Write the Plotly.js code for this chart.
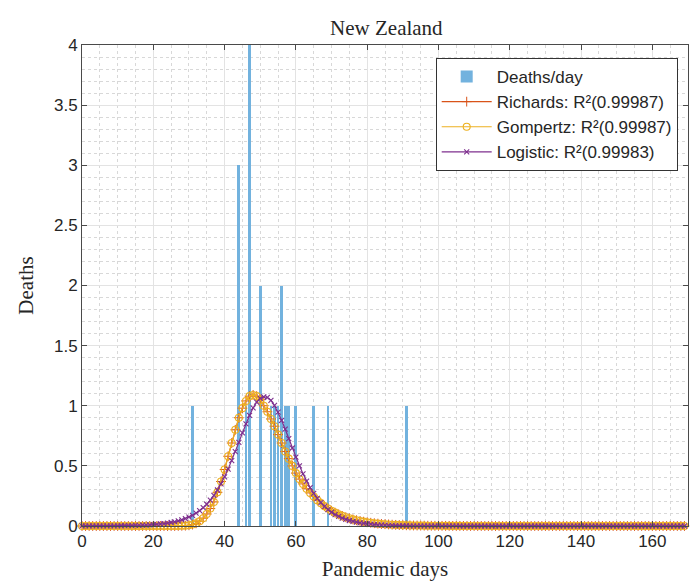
<!DOCTYPE html>
<html>
<head>
<meta charset="utf-8">
<script src="https://cdn.plot.ly/plotly-3.0.1.min.js"></script>
<style>html,body{margin:0;padding:0;background:#fff;}#chart{width:693px;height:583px;}</style>
</head>
<body>
<div id="chart"></div>
<script>
// Daily deaths (bars)
const barDays   = [31, 44, 46, 47, 50, 53, 54, 55, 56, 57, 58, 60, 65, 69, 91];
const barDeaths = [ 1,  3,  1,  4,  2,  1,  1,  1,  2,  1,  1,  1,  1,  1,  1];

// Fitted curves, value for each pandemic day 0..170
const richards = [
0,0,0,0,0,0,0,0,0,0, 0,0,0,0,0,0,0,0,0,0,
0,0,0,0,0,0,0,0.001,0.002,0.003,
0.006,0.012,0.022,0.04,0.065,0.10,0.145,0.20,0.28,0.37,
0.47,0.58,0.69,0.80,0.90,0.98,1.04,1.08,1.09,1.08,
1.05,1.00,0.95,0.89,0.83,0.76,0.69,0.62,0.56,0.50,
0.44,0.39,0.35,0.31,0.275,0.245,0.215,0.19,0.165,0.145,
0.127,0.111,0.097,0.084,0.073,0.064,0.055,0.048,0.042,0.036,
0.031,0.027,0.023,0.02,0.017,0.015,0.013,0.011,0.0095,0.008,
0.007,0.006,0.005,0.0045,0.004,0.0034,0.003,0.0026,0.0022,0.0019,
0.0016,0.0014,0.0012,0.001,0.0009,0.0008,0.0007,0.0006,0.0005,0.0004,
0.0004,0.0003,0.0003,0.0002,0.0002,0.0002,0.0001,0.0001,0.0001,0.0001,
0,0,0,0,0,0,0,0,0,0, 0,0,0,0,0,0,0,0,0,0,
0,0,0,0,0,0,0,0,0,0, 0,0,0,0,0,0,0,0,0,0,
0,0,0,0,0,0,0,0,0,0, 0
];
const gompertz = [
0,0,0,0,0,0,0,0,0,0, 0,0,0,0,0,0,0,0,0,0,
0,0,0,0,0,0,0,0.001,0.002,0.003,
0.006,0.012,0.022,0.04,0.065,0.10,0.145,0.20,0.28,0.37,
0.47,0.58,0.69,0.80,0.90,0.98,1.04,1.08,1.09,1.08,
1.05,1.00,0.95,0.89,0.83,0.76,0.69,0.62,0.56,0.50,
0.44,0.39,0.35,0.31,0.275,0.245,0.215,0.19,0.165,0.145,
0.127,0.111,0.097,0.084,0.073,0.064,0.055,0.048,0.042,0.036,
0.031,0.027,0.023,0.02,0.017,0.015,0.013,0.011,0.0095,0.008,
0.007,0.006,0.005,0.0045,0.004,0.0034,0.003,0.0026,0.0022,0.0019,
0.0016,0.0014,0.0012,0.001,0.0009,0.0008,0.0007,0.0006,0.0005,0.0004,
0.0004,0.0003,0.0003,0.0002,0.0002,0.0002,0.0001,0.0001,0.0001,0.0001,
0,0,0,0,0,0,0,0,0,0, 0,0,0,0,0,0,0,0,0,0,
0,0,0,0,0,0,0,0,0,0, 0,0,0,0,0,0,0,0,0,0,
0,0,0,0,0,0,0,0,0,0, 0
];
const logistic = [
0.0003,0.0003,0.0004,0.0004,0.0005,0.0007,0.0008,0.0010,0.0012,0.0014,
0.0017,0.0021,0.0025,0.0030,0.0037,0.0044,0.0054,0.0065,0.0078,0.0095,
0.0114,0.0138,0.0166,0.0201,0.0242,0.0292,0.0352,0.0424,0.0511,0.0615,
0.0739,0.0887,0.1062,0.1273,0.1520,0.1808,0.2149,0.2540,0.2993,0.3510,
0.4089,0.4731,0.5431,0.6179,0.6955,0.7740,0.8501,0.9205,0.9815,1.0294,
1.0611,1.0746,1.0688,1.0442,1.0024,0.9463,0.8791,0.8049,0.7270,0.6487,
0.5726,0.5006,0.4339,0.3732,0.3194,0.2717,0.2299,0.1939,0.1631,0.1367,
0.1143,0.0955,0.0796,0.0662,0.0551,0.0457,0.0380,0.0315,0.0261,0.0217,
0.0180,0.0149,0.0123,0.0102,0.0085,0.0070,0.0058,0.0048,0.0040,0.0033,
0.0027,0.0022,0.0018,0.0015,0.0013,0.0010,0.0009,0.0007,0.0006,0.0005,
0.0004,0.0003,0.0003,0.0002,0.0002,0.0002,0.0001,0.0001,0.0001,0.0001,
0,0,0,0,0,0,0,0,0,0, 0,0,0,0,0,0,0,0,0,0,
0,0,0,0,0,0,0,0,0,0, 0,0,0,0,0,0,0,0,0,0,
0,0,0,0,0,0,0,0,0,0, 0,0,0,0,0,0,0,0,0,0
];
const seriesNames = ['Deaths/day', 'Richards: R²(0.99987)', 'Gompertz: R²(0.99987)', 'Logistic: R²(0.99983)'];
const days = logistic.map((_, i) => i);

const traces = [
  {type:'bar', x:barDays, y:barDeaths, name:seriesNames[0], width:0.8,
   marker:{color:'rgb(114,178,222)', line:{width:0}}},
  {type:'scatter', mode:'lines+markers', x:days, y:richards, name:seriesNames[1], cliponaxis:false,
   line:{color:'#D95319', width:1.2},
   marker:{symbol:'cross-thin-open', size:7, color:'#D95319', line:{color:'#D95319', width:1}}},
  {type:'scatter', mode:'lines+markers', x:days, y:gompertz, name:seriesNames[2], cliponaxis:false,
   line:{color:'#EDB120', width:1.2},
   marker:{symbol:'circle-open', size:7, color:'#EDB120', line:{color:'#EDB120', width:1.1}}},
  {type:'scatter', mode:'lines+markers', x:days, y:logistic, name:seriesNames[3], cliponaxis:false,
   line:{color:'#7E2F8E', width:1.2},
   marker:{symbol:'x-thin-open', size:5, color:'#7E2F8E', line:{color:'#7E2F8E', width:1.1}}}
];

const axisCommon = {
  showline:true, linecolor:'#4a4a4a', linewidth:1, mirror:'ticks',
  ticks:'inside', ticklen:5, tickcolor:'#4a4a4a',
  showgrid:true, gridcolor:'#e3e3e3', gridwidth:1,
  zeroline:false,
  tickfont:{family:'Liberation Sans, Arial, sans-serif', size:17, color:'#262626'}
};
const serifFont = {family:'Liberation Serif, Times New Roman, serif', size:21, color:'#262626'};

const layout = {
  width:693, height:583,
  margin:{l:82, r:5, t:45, b:57},
  paper_bgcolor:'#fff', plot_bgcolor:'#fff',
  bargap:0,
  showlegend:true,
  title:{text:'New Zealand', x:0.5575, xanchor:'center', y:0.952, yanchor:'middle', font:serifFont},
  xaxis:Object.assign({}, axisCommon, {
    range:[0,170], dtick:20, tick0:0,
    minor:{dtick:5, showgrid:true, gridcolor:'#d8d8d8', griddash:'dot', gridwidth:1, ticks:''},
    title:{text:'Pandemic days', standoff:10, font:serifFont}
  }),
  yaxis:Object.assign({}, axisCommon, {
    range:[0,4], dtick:0.5, tick0:0,
    minor:{dtick:0.1, showgrid:true, gridcolor:'#d8d8d8', griddash:'dot', gridwidth:1, ticks:''},
    title:{text:'Deaths', standoff:14, font:serifFont}
  }),
  legend:{x:0.983, xanchor:'right', y:0.973, yanchor:'top',
    bgcolor:'#fff', bordercolor:'#333', borderwidth:1,
    font:{family:'Liberation Sans, Arial, sans-serif', size:17, color:'#262626'},
    tracegroupgap:0, itemwidth:50}
};

Plotly.newPlot('chart', traces, layout, {staticPlot:true, displayModeBar:false});
</script>
</body>
</html>
